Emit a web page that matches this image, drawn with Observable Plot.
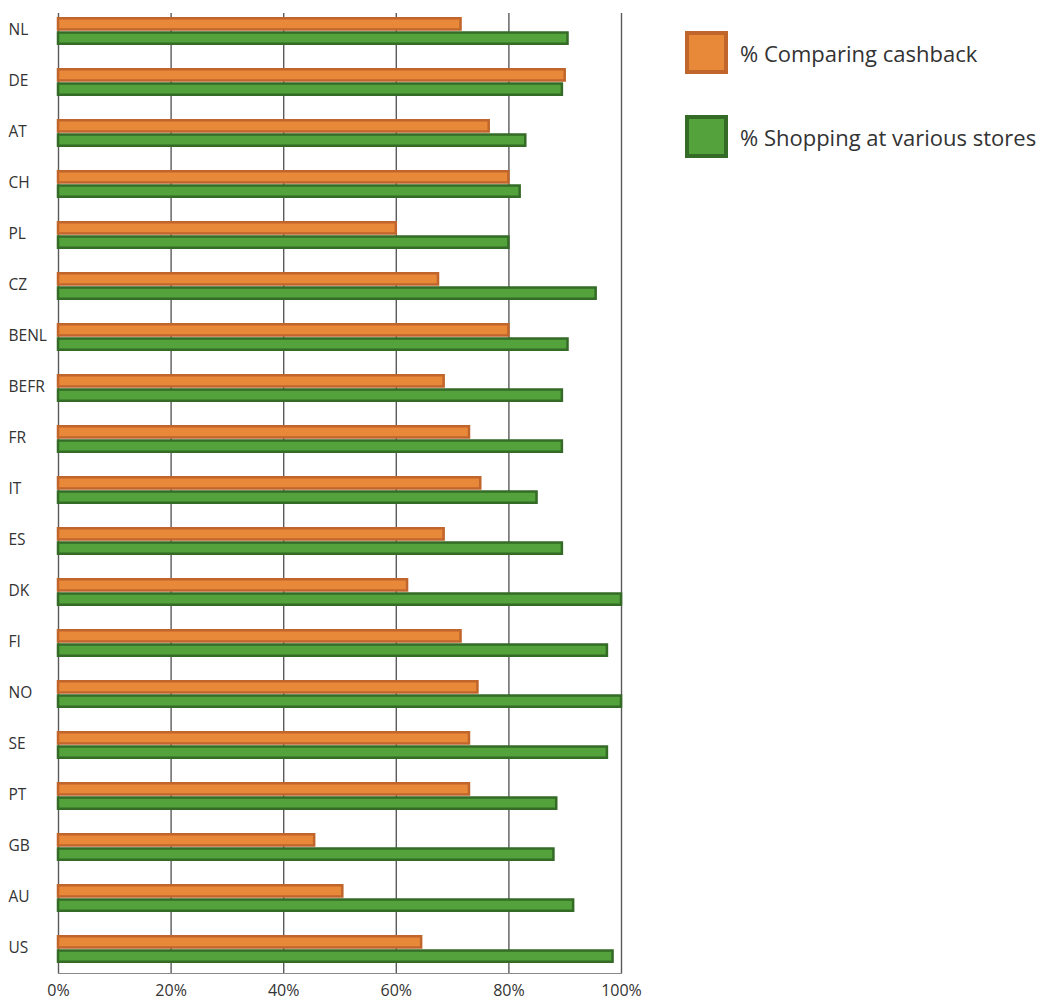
<!DOCTYPE html>
<html>
<head>
<meta charset="utf-8">
<script src="https://cdn.jsdelivr.net/npm/d3@7"></script>
<script src="https://cdn.jsdelivr.net/npm/@observablehq/plot@0.6"></script>
<style>
  html, body { margin: 0; padding: 0; background: #fff; }
  #wrap { position: relative; width: 1043px; height: 1003px; font-family: "Open Sans", sans-serif; color: #333; }
  #chart { position: absolute; left: 0; top: 0; }
  #legend { position: absolute; left: 685px; top: 31px; }
  .item { display: flex; align-items: center; height: 43px; margin-bottom: 41px; }
  .swatch { width: 35px; height: 35px; border: 4px solid; margin-right: 12px; flex: none; }
  .label { font-size: 22px; color: #333; white-space: nowrap; }
</style>
</head>
<body>
<div id="wrap">
  <div id="chart"></div>
  <div id="legend"></div>
</div>
<script>
// Countries, top to bottom
const countries = ["NL", "DE", "AT", "CH", "PL", "CZ", "BENL", "BEFR", "FR", "IT", "ES", "DK", "FI", "NO", "SE", "PT", "GB", "AU", "US"];

// Share of respondents (%)
const comparingCashback = [71.5, 90, 76.5, 80, 60, 67.5, 80, 68.5, 73, 75, 68.5, 62, 71.5, 74.5, 73, 73, 45.5, 50.5, 64.5];
const shoppingVariousStores = [90.5, 89.5, 83, 82, 80, 95.5, 90.5, 89.5, 89.5, 85, 89.5, 100, 97.5, 100, 97.5, 88.5, 88, 91.5, 98.5];

// Axis ticks
const xTicks = [0, 20, 40, 60, 80, 100];

// Series names and colours
const seriesNames = ["% Comparing cashback", "% Shopping at various stores"];
const seriesFill = ["#e8893a", "#53a23b"];
const seriesStroke = ["#c0652b", "#346b27"];

const cashbackRows = countries.map((c, i) => ({country: c, value: comparingCashback[i]}));
const storesRows = countries.map((c, i) => ({country: c, value: shoppingVariousStores[i]}));

const chart = Plot.plot({
  width: 660,
  height: 1003,
  marginTop: 13,
  marginBottom: 30,
  marginLeft: 58,
  marginRight: 39,
  style: {fontFamily: "'Open Sans', sans-serif", fontSize: "14px", color: "#333", background: "#fff", overflow: "visible"},
  x: {domain: [0, 100], label: null},
  y: {domain: countries, range: [15, 966], paddingInner: 0.443, paddingOuter: 0, label: null},
  marks: [
    Plot.ruleX(xTicks, {stroke: "#5a5a5a", strokeWidth: 1.4}),
    Plot.frame({anchor: "bottom", stroke: "#8a8a8a", strokeWidth: 1.2}),
    Plot.barX(cashbackRows, {
      x: "value", y: "country",
      fill: seriesFill[0], stroke: seriesStroke[0], strokeWidth: 2.5,
      insetTop: 1.25, insetBottom: 15.5
    }),
    Plot.barX(storesRows, {
      x: "value", y: "country",
      fill: seriesFill[1], stroke: seriesStroke[1], strokeWidth: 2.5,
      insetTop: 15.5, insetBottom: 1.25
    }),
    Plot.axisY({tickSize: 0, tickPadding: 0, textAnchor: "start", dx: -50, dy: -1, fontSize: 15.5, fill: "#333", label: null}),
    Plot.axisX(xTicks, {tickSize: 0, tickPadding: 11, tickFormat: d => d + "%", fontSize: 16, fill: "#333", label: null})
  ]
});
document.getElementById("chart").appendChild(chart);

// Legend beside the chart
const legend = document.getElementById("legend");
seriesNames.forEach((name, i) => {
  const item = document.createElement("div");
  item.className = "item";
  const sw = document.createElement("div");
  sw.className = "swatch";
  sw.style.background = seriesFill[i];
  sw.style.borderColor = seriesStroke[i];
  const lb = document.createElement("div");
  lb.className = "label";
  lb.textContent = name;
  item.appendChild(sw);
  item.appendChild(lb);
  legend.appendChild(item);
});
</script>
</body>
</html>
